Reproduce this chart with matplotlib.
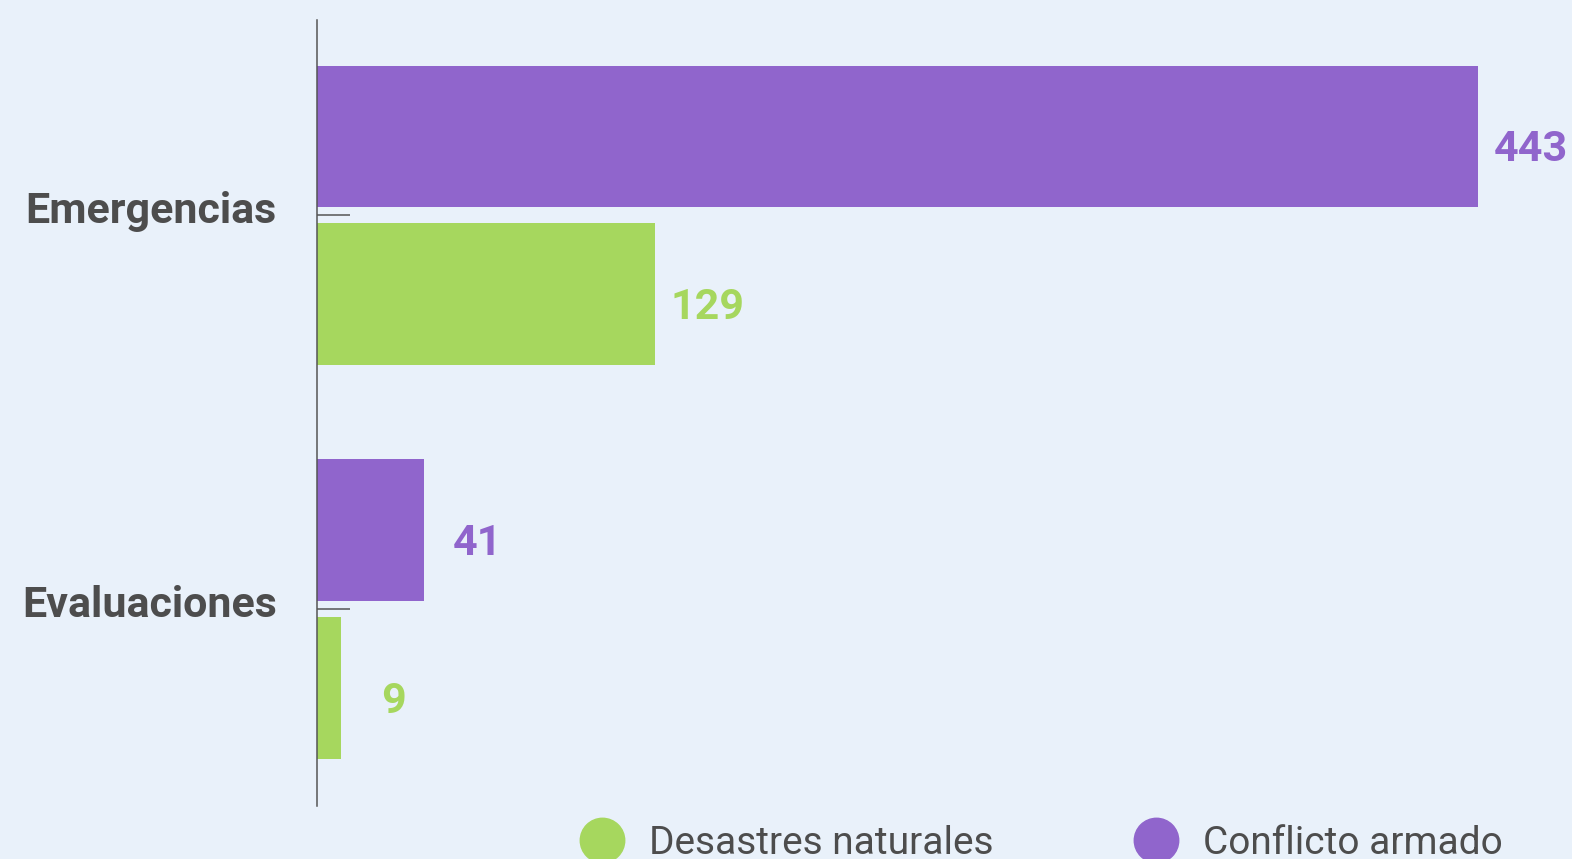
import matplotlib.pyplot as plt
from matplotlib.lines import Line2D
from matplotlib.transforms import ScaledTranslation

# datos
categorias = ["Emergencias", "Evaluaciones"]
conflicto_armado = [443, 41]
desastres_naturales = [129, 9]
series = ["Desastres naturales", "Conflicto armado"]

COL_VERDE = "#A6D75E"
COL_MORADO = "#9065CC"
COL_FONDO = "#E9F1FA"
COL_TEXTO = "#4D4D4D"

plt.rcParams["font.family"] = ["Roboto", "DejaVu Sans"]

W, H = 1572, 859
fig = plt.figure(figsize=(W / 100, H / 100), dpi=100, facecolor=COL_FONDO)
ax = fig.add_axes([317 / W, 1 - 806 / H, (1478 - 317) / W, (806 - 20) / H])
ax.set_facecolor(COL_FONDO)

y = list(range(len(categorias)))
alto = 0.358
desp = 0.2005
ax.barh([i - desp for i in y], conflicto_armado, height=alto, color=COL_MORADO)
ax.barh([i + desp for i in y], desastres_naturales, height=alto, color=COL_VERDE)

# etiquetas de valores
for i, v in enumerate(conflicto_armado):
    ax.annotate(str(v), (v, i - desp), xytext=(38, -10), textcoords="offset points",
                ha="center", va="center", fontsize=31, fontweight="bold",
                color=COL_MORADO, annotation_clip=False)
for i, v in enumerate(desastres_naturales):
    ax.annotate(str(v), (v, i + desp), xytext=(38, -10), textcoords="offset points",
                ha="center", va="center", fontsize=31, fontweight="bold",
                color=COL_VERDE, annotation_clip=False)

ax.set_xlim(0, 443)
ax.set_ylim(1.5, -0.495)
ax.set_yticks(y)
ax.set_yticklabels(categorias, fontsize=31, fontweight="bold", color=COL_TEXTO)
ax.tick_params(axis="y", direction="in", length=23.8, width=1.1, color="#555555", pad=29)
# subir un poco las etiquetas
for lbl in ax.get_yticklabels():
    lbl.set_transform(lbl.get_transform() + ScaledTranslation(0, 6 / 72, fig.dpi_scale_trans))
ax.set_xticks([])
for s in ["top", "right", "bottom"]:
    ax.spines[s].set_visible(False)
ax.spines["left"].set_color("#555555")
ax.spines["left"].set_linewidth(1.1)

# leyenda
handles = [Line2D([], [], marker="o", ls="", markersize=32, color=COL_VERDE),
           Line2D([], [], marker="o", ls="", markersize=32, color=COL_MORADO)]
fig.legend(handles, series, loc="upper left", bbox_to_anchor=(563 / W, 1 - 825 / H),
           ncol=2, frameon=False, fontsize=28, labelcolor=COL_TEXTO,
           handletextpad=0.2, columnspacing=3.2, borderaxespad=0, borderpad=0)

fig.savefig("out.png", dpi=100, facecolor=COL_FONDO)
